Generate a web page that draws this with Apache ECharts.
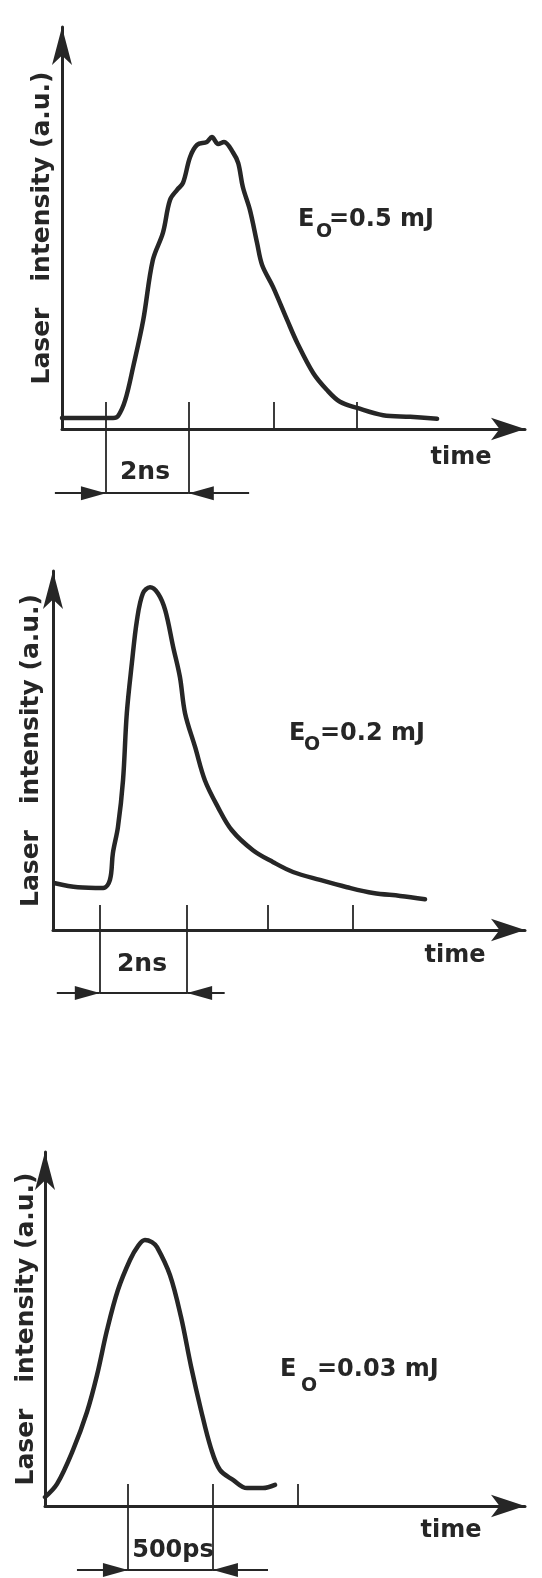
<!DOCTYPE html>
<html>
<head>
<meta charset="utf-8">
<title>Laser pulse shapes</title>
<script src="https://cdn.jsdelivr.net/npm/echarts@6.0.0/dist/echarts.min.js"></script>
<style>
  html, body { margin: 0; padding: 0; background: #fff; }
  #main { width: 542px; height: 1578px; }
</style>
</head>
<body>
<div id="main"></div>
<script>
// pulse 1: E0 = 0.5 mJ  (time in ns, intensity in a.u.)
var time1 = [0, 1.22, 1.34, 1.51, 1.70, 1.94, 2.17, 2.41, 2.58, 2.75, 2.89, 3.06, 3.23, 3.46, 3.58, 3.73, 3.87, 4.09, 4.21, 4.32, 4.49, 4.66, 4.78, 5.04, 5.38, 5.62, 6.00, 6.33, 6.64, 7.05, 7.67, 8.32, 8.96];
var intensity1 = [2.7, 2.7, 3.2, 7.1, 15.3, 26.8, 41.6, 48.3, 56.4, 58.9, 60.6, 67.0, 70.0, 70.7, 71.9, 70.2, 70.7, 68.0, 65.5, 59.6, 53.9, 45.8, 40.4, 35.0, 26.8, 21.2, 13.8, 9.6, 6.7, 5.2, 3.4, 3.0, 2.5];
var ticks1 = [1.05, 3.03, 5.07, 7.05];
var span1 = [-0.17, 4.47];   // 2 ns dimension line
var level1 = -15.8;

// pulse 2: E0 = 0.2 mJ  (time in ns)
var time2 = [0.05, 0.59, 1.19, 1.35, 1.42, 1.54, 1.66, 1.75, 1.87, 1.99, 2.13, 2.30, 2.49, 2.66, 2.85, 3.01, 3.13, 3.37, 3.60, 3.91, 4.24, 4.74, 5.22, 5.69, 6.33, 6.97, 7.59, 8.23, 8.82];
var intensity2 = [12.9, 11.8, 11.6, 13.8, 21.2, 28.4, 41.3, 59.8, 73.6, 85.4, 92.8, 94.5, 92.8, 88.2, 78.0, 69.7, 59.8, 50.4, 41.3, 33.9, 27.5, 22.0, 18.7, 16.0, 13.8, 11.8, 10.2, 9.4, 8.5];
var ticks2 = [1.11, 3.18, 5.10, 7.11];
var span2 = [0.09, 4.07];
var level2 = -17.4;

// pulse 3: E0 = 0.03 mJ  (time in ps)
var time3 = [0, 71, 165, 247, 306, 365, 429, 500, 547, 588, 629, 659, 735, 800, 859, 918, 976, 1029, 1106, 1188, 1282, 1353];
var intensity3 = [2.5, 6.2, 15.7, 26.3, 36.6, 49.2, 60.4, 68.8, 72.7, 74.4, 73.8, 72.4, 64.6, 52.9, 39.1, 26.8, 16.2, 10.1, 7.3, 5.0, 5.0, 5.9];
var ticks3 = [488, 988, 1488];
var span3 = [188, 1312];
var level3 = -17.9;

var ink = '#262626';
var font = '"DejaVu Sans", "Liberation Sans", sans-serif';
// arrow head, tip in the centre of a square symbol box
var arrowHead = 'path://M0,0 M50,50 M25,25 L32,50 L18,50 Z';

var myChart = echarts.init(document.getElementById('main'));

function zip(xs, ys) {
    return xs.map(function (x, k) { return [x, ys[k]]; });
}

function makeX(i, max, ticks, tickLen) {
    return {
        gridIndex: i,
        type: 'value',
        min: 0,
        max: max,
        axisLine: {
            onZero: false,
            symbol: ['none', 'arrow'],
            symbolSize: [17, 34],
            lineStyle: { color: ink, width: 3 }
        },
        axisTick: {
            show: true,
            inside: true,
            length: tickLen,
            customValues: ticks,
            lineStyle: { color: ink, width: 1.8 }
        },
        axisLabel: { show: false },
        splitLine: { show: false }
    };
}

function makeY(i, gap) {
    return {
        gridIndex: i,
        type: 'value',
        min: 0,
        max: 99,
        name: 'Laser   intensity (a.u.)',
        nameLocation: 'middle',
        nameRotate: 90,
        nameGap: gap,
        nameTextStyle: { color: ink, fontFamily: font, fontWeight: 'bold', fontSize: 25 },
        axisLine: {
            onZero: false,
            symbol: ['none', 'arrow'],
            symbolSize: [15, 38],
            lineStyle: { color: ink, width: 3 }
        },
        axisTick: { show: false },
        axisLabel: { show: false },
        splitLine: { show: false }
    };
}

function pulse(i, xs, ys) {
    return {
        type: 'line',
        xAxisIndex: i,
        yAxisIndex: i,
        data: zip(xs, ys),
        smooth: 0.35,
        showSymbol: false,
        symbol: 'none',
        lineStyle: { color: ink, width: 4.5, cap: 'round', join: 'round' },
        itemStyle: { color: ink }
    };
}

// tick extensions + middle part of the dimension line
function dimLines(i, ticks, level) {
    return {
        type: 'lines',
        coordinateSystem: 'cartesian2d',
        xAxisIndex: i,
        yAxisIndex: i,
        clip: false,
        silent: true,
        lineStyle: { color: ink, width: 1.8, opacity: 1 },
        data: [
            { coords: [[ticks[0], 0], [ticks[0], level]] },
            { coords: [[ticks[1], 0], [ticks[1], level]] },
            { coords: [[ticks[0], level], [ticks[1], level]] }
        ]
    };
}

// outer parts of the dimension line, arrows pointing at the ticks
function dimArrows(i, ticks, span, level) {
    return {
        type: 'lines',
        coordinateSystem: 'cartesian2d',
        xAxisIndex: i,
        yAxisIndex: i,
        clip: false,
        silent: true,
        symbol: ['none', arrowHead],
        symbolSize: 50,
        lineStyle: { color: ink, width: 1.8, opacity: 1 },
        data: [
            { coords: [[span[0], level], [ticks[0], level]] },
            { coords: [[span[1], level], [ticks[1], level]] }
        ]
    };
}

function label(text, x, y, size, align) {
    return {
        type: 'text',
        x: x,
        y: y,
        silent: true,
        style: {
            text: text,
            font: 'bold ' + size + 'px ' + font,
            fill: ink,
            textAlign: align,
            textVerticalAlign: 'middle',
            align: align,
            verticalAlign: 'middle'
        }
    };
}

var option = {
    backgroundColor: '#fff',
    animation: false,
    grid: [
        { left: 62, top: 27, width: 463, height: 402 },
        { left: 53, top: 571, width: 472, height: 359 },
        { left: 45, top: 1152, width: 480, height: 354 }
    ],
    xAxis: [
        makeX(0, 11.06, ticks1, 27),
        makeX(1, 11.19, ticks2, 25),
        makeX(2, 2824, ticks3, 22)
    ],
    yAxis: [
        makeY(0, 7),
        makeY(1, 9),
        makeY(2, 6)
    ],
    series: [
        pulse(0, time1, intensity1),
        pulse(1, time2, intensity2),
        pulse(2, time3, intensity3),
        dimLines(0, ticks1, level1),
        dimArrows(0, ticks1, span1, level1),
        dimLines(1, ticks2, level2),
        dimArrows(1, ticks2, span2, level2),
        dimLines(2, ticks3, level3),
        dimArrows(2, ticks3, span3, level3)
    ],
    graphic: [
        // panel 1
        label('E', 298, 220, 24, 'left'),
        label('O', 316, 232, 19, 'left'),
        label('=0.5 mJ', 329, 220, 24, 'left'),
        label('time', 461, 458, 24, 'center'),
        label('2ns', 145, 472, 25, 'center'),
        // panel 2
        label('E', 289, 734, 24, 'left'),
        label('O', 304, 745, 19, 'left'),
        label('=0.2 mJ', 320, 734, 24, 'left'),
        label('time', 455, 956, 24, 'center'),
        label('2ns', 142, 964, 25, 'center'),
        // panel 3
        label('E', 280, 1370, 24, 'left'),
        label('O', 301, 1386, 19, 'left'),
        label('=0.03 mJ', 317, 1370, 24, 'left'),
        label('time', 451, 1531, 24, 'center'),
        label('500ps', 173, 1551, 24, 'center')
    ]
};

myChart.setOption(option);
window.addEventListener('resize', function () {
    myChart.resize();
});
</script>
</body>
</html>
